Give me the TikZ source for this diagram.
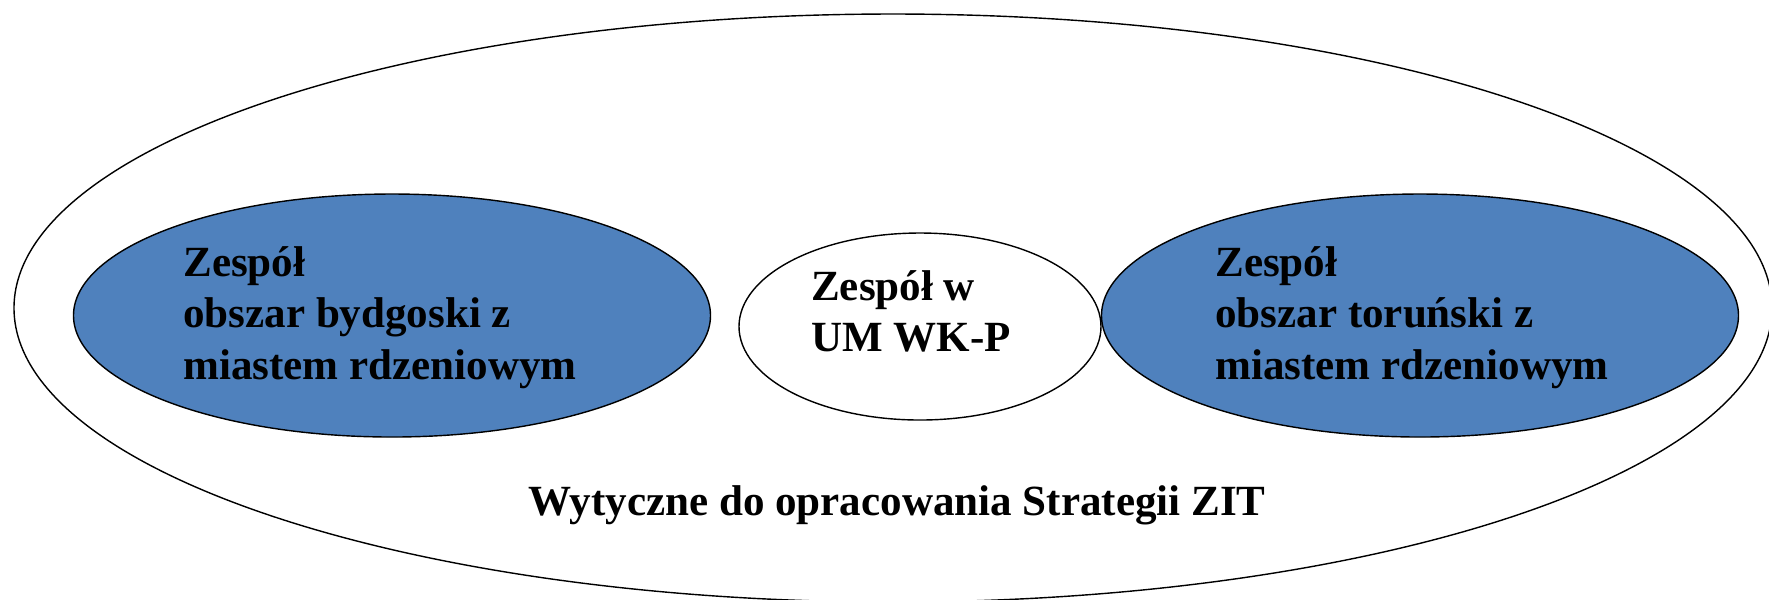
\documentclass[tikz,border=0pt]{standalone}
\usepackage{fontspec}
\setmainfont{Liberation Serif}
\usepackage{tikz}
\usetikzlibrary{shapes.geometric}

\definecolor{teamblue}{HTML}{4F81BD}

\begin{document}
\begin{tikzpicture}[font=\fontsize{12.25}{14.6}\selectfont\bfseries]
        \tikzstyle{team} = [ellipse, draw=black, inner sep=0pt]
        \tikzstyle{area} = [team, fill=teamblue, minimum width=6.37cm, minimum height=2.43cm]
        \tikzstyle{teamtext} = [align=left, inner sep=0pt]

        \useasboundingbox (0,0) rectangle (17.69,-5.99);

        \node (zit) [ellipse, draw=black, minimum width=17.58cm, minimum height=5.88cm] at (8.93,-3.08) {};
        \node (bydgoszcz) [area] at (3.92,-3.155) {};
        \node (umwkp) [team, fill=white, minimum width=3.62cm, minimum height=1.87cm] at (9.20,-3.265) {};
        \node (torun) [area] at (14.20,-3.155) {};

        \node (bydgoszcztext) [teamtext] at ([xshift=-0.12cm,yshift=-0.02cm]bydgoszcz.center) {Zespół\\obszar bydgoski z\\miastem rdzeniowym};
        \node (umwkptext) [teamtext] at ([xshift=-0.09cm,yshift=0.15cm]umwkp.center) {Zespół w\\UM WK-P};
        \node (toruntext) [teamtext] at ([xshift=-0.08cm,yshift=-0.02cm]torun.center) {Zespół\\obszar toruński z\\miastem rdzeniowym};
        \node (wytyczne) [anchor=base] at (8.97,-5.15) {Wytyczne do opracowania Strategii ZIT};
    \end{tikzpicture}
\end{document}
